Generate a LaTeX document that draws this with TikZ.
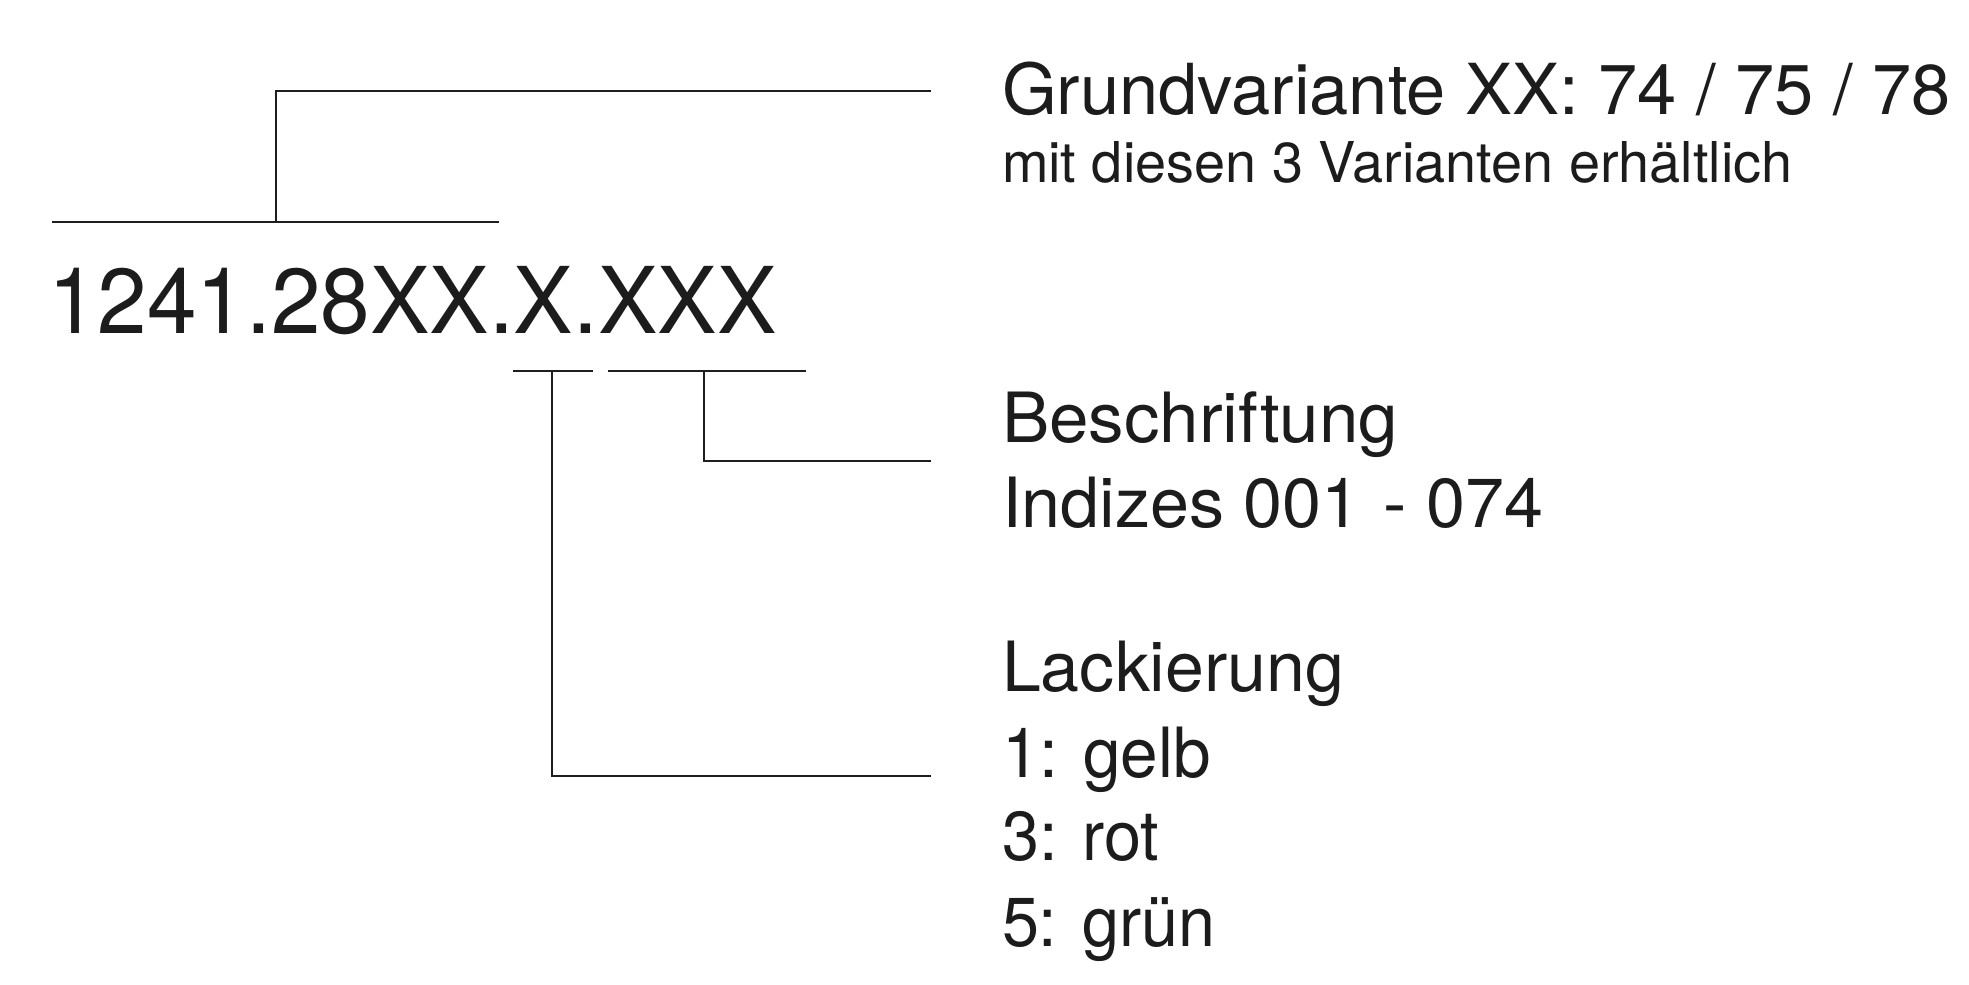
\documentclass[tikz,border=0pt]{standalone}
\usepackage{fontspec}
\setmainfont{TeX Gyre Heros}
\usepackage{graphicx}
\definecolor{txt}{RGB}{28,28,28}
\definecolor{ln}{RGB}{30,30,30}
\newcommand\fitw[3]{\fontsize{#1}{#1}\selectfont\resizebox{#2}{\height}{#3}}
\tikzset{
  lbl/.style={anchor=base west, inner sep=0pt, outer sep=0pt, text=txt},
  conn/.style={line width=0.6pt, draw=ln}
}
\begin{document}
\begin{tikzpicture}[x=0.01cm, y=-0.01cm]
\useasboundingbox (0,0) rectangle (1969,984);
% main number
\node[lbl] (num) at (48,333) {\fitw{26.2pt}{7.28cm}{1241.28XX.X.XXX}};
% labels
\node[lbl] (grund) at (1002,114) {\fitw{20pt}{9.48cm}{Grundvariante XX: 74 / 75 / 78}};
\node[lbl] (mit) at (1002,182) {\fitw{16pt}{7.90cm}{mit diesen 3 Varianten erhältlich}};
\node[lbl] (besch) at (1002,442) {\fitw{19.7pt}{3.96cm}{Beschriftung}};
\node[lbl] (indz) at (1002,527) {\fitw{19.7pt}{5.41cm}{Indizes 001\hspace{0.05em} - 074}};
\node[lbl] (lack) at (1002,691) {\fitw{19.7pt}{3.42cm}{Lackierung}};
\node[lbl] (gelb) at (1002,777) {\fitw{19.7pt}{2.09cm}{1: gelb}};
\node[lbl] (rot) at (1002,860) {\fitw{19.7pt}{1.57cm}{3: rot}};
\node[lbl] (gruen) at (1002,946) {\fitw{19.7pt}{2.13cm}{5: grün}};
% bracket coordinates
\coordinate (a1) at (52,222);
\coordinate (a2) at (499,222);
\coordinate (am) at (276,222);
\coordinate (at) at (276,91);
\coordinate (ae) at (931,91);
\coordinate (b1) at (513,371);
\coordinate (b2) at (593,371);
\coordinate (bm) at (552,371);
\coordinate (bb) at (552,776);
\coordinate (be) at (931,776);
\coordinate (c1) at (608,371);
\coordinate (c2) at (806,371);
\coordinate (cm) at (704,371);
\coordinate (cb) at (704,461);
\coordinate (ce) at (931,461);
% connectors
\draw[conn] (a1) -- (a2);
\draw[conn] (am) -- (at) -- (ae);
\draw[conn] (b1) -- (b2);
\draw[conn] (bm) -- (bb) -- (be);
\draw[conn] (c1) -- (c2);
\draw[conn] (cm) -- (cb) -- (ce);
\end{tikzpicture}
\end{document}
